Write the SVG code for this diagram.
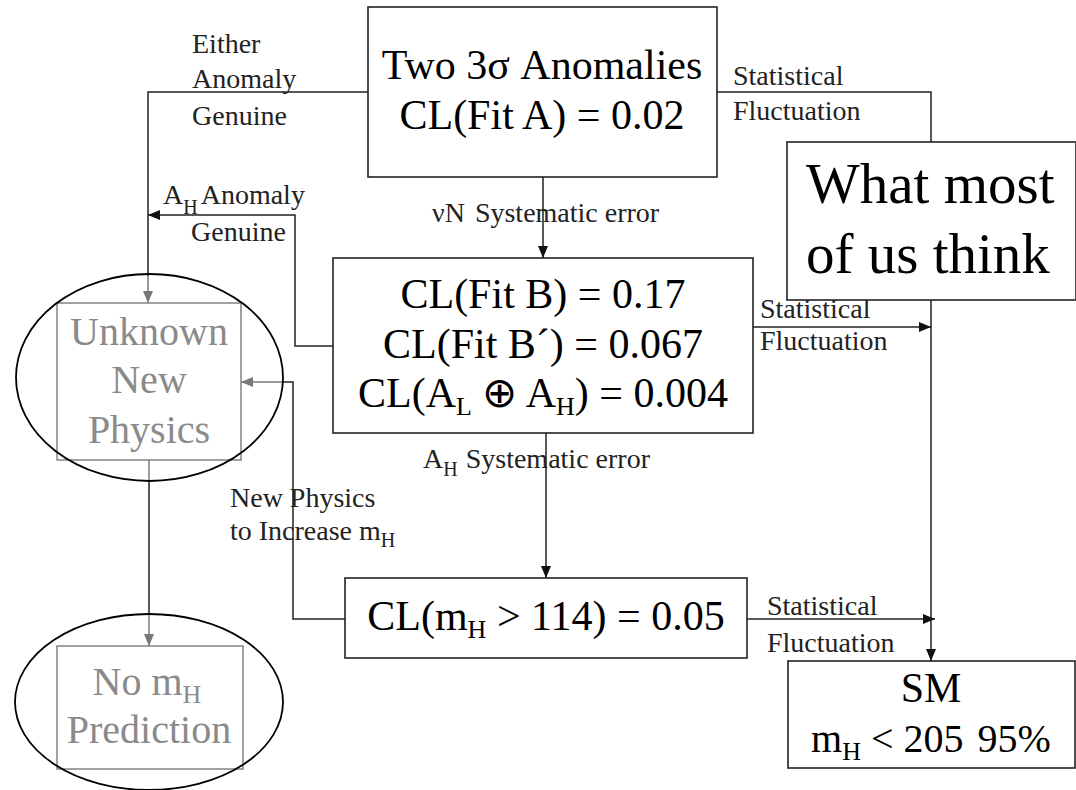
<svg xmlns="http://www.w3.org/2000/svg" width="1076" height="790" viewBox="0 0 1076 790" font-family="Liberation Serif">
<style>
text{font-family:'Liberation Serif','Times New Roman',serif}
.box{fill:#fff;stroke:#222;stroke-width:1.6}
.gbox{fill:none;stroke:#8a8a8a;stroke-width:1.6}
.ell{fill:none;stroke:#000;stroke-width:1.8}
.ln{fill:none;stroke:#222;stroke-width:1.5}
.gln{fill:none;stroke:#7a7a7a;stroke-width:1.5}
.big{font-size:42px;fill:#000;text-anchor:middle}
.gbig{font-size:40px;fill:#8a8a8a;text-anchor:middle}
.lab{font-size:28px;fill:#222}
.huge{font-size:57px;fill:#000}
</style>
<defs>
<marker id="ah" viewBox="0 0 12 10" refX="12" refY="5" markerWidth="12" markerHeight="10" markerUnits="userSpaceOnUse" orient="auto">
<path d="M0,0 L12,5 L0,10 Z" fill="#111"/>
</marker>
<marker id="gah" viewBox="0 0 12 10" refX="12" refY="5" markerWidth="12" markerHeight="10" markerUnits="userSpaceOnUse" orient="auto">
<path d="M0,0 L12,5 L0,10 Z" fill="#777"/>
</marker>
</defs>

<g id="connectors">
<polyline class="ln" points="368,92 148,92 148,276"/>
<line class="gln" x1="148" y1="276" x2="148" y2="303" marker-end="url(#gah)"/>
<polyline class="ln" points="333,346 295,346 295,215 148,215" marker-end="url(#ah)"/>
<line class="ln" x1="543" y1="177" x2="543" y2="258" marker-end="url(#ah)"/>
<line class="ln" x1="546" y1="433" x2="546" y2="578" marker-end="url(#ah)"/>
<polyline class="ln" points="345,619 293,619 293,382 283,382"/>
<line class="gln" x1="283" y1="382" x2="241" y2="382" marker-end="url(#gah)"/>
<line class="gln" x1="149" y1="460" x2="149" y2="481"/>
<line class="ln" x1="149" y1="481" x2="149" y2="614"/>
<line class="gln" x1="149" y1="614" x2="149" y2="646" marker-end="url(#gah)"/>
<polyline class="ln" points="717,92 931,92 931,661" marker-end="url(#ah)"/>
<line class="ln" x1="753" y1="327" x2="931" y2="327" marker-end="url(#ah)"/>
<line class="ln" x1="747" y1="619" x2="935" y2="619" marker-end="url(#ah)"/>
</g>

<g id="labels">
<text class="lab" x="192" y="53">Either</text>
<text class="lab" x="192" y="88">Anomaly</text>
<text class="lab" x="192" y="125">Genuine</text>
<text class="lab" x="163" y="204">A<tspan font-size="20" dy="10">H</tspan><tspan dy="-10" dx="3">Anomaly</tspan></text>
<text class="lab" x="191" y="241">Genuine</text>
<text class="lab" x="733" y="85">Statistical</text>
<text class="lab" x="733" y="120">Fluctuation</text>
<text class="lab" x="432" y="222">νN<tspan dx="10">Systematic error</tspan></text>
<text class="lab" x="760" y="318">Statistical</text>
<text class="lab" x="760" y="350">Fluctuation</text>
<text class="lab" x="423" y="468">A<tspan font-size="20" dy="8">H</tspan><tspan dy="-8" dx="8">Systematic error</tspan></text>
<text class="lab" x="230" y="507">New Physics</text>
<text class="lab" x="230" y="540">to Increase m<tspan font-size="20" dy="7">H</tspan></text>
<text class="lab" x="767" y="615">Statistical</text>
<text class="lab" x="767" y="652">Fluctuation</text>
</g>

<g id="node-top">
<rect class="box" x="368" y="7" width="349" height="170"/>
<text class="big" x="542" y="79">Two 3σ Anomalies</text>
<text class="big" x="542" y="129">CL(Fit A) = 0.02</text>
</g>

<g id="node-fitb">
<rect class="box" x="333" y="258" width="420" height="175"/>
<text class="big" x="543" y="308">CL(Fit B) = 0.17</text>
<text class="big" x="543" y="358">CL(Fit B´) = 0.067</text>
<text class="big" x="543" y="407">CL(A<tspan font-size="26" dy="8">L</tspan><tspan dy="-8"> ⊕ A</tspan><tspan font-size="26" dy="8">H</tspan><tspan dy="-8">) = 0.004</tspan></text>
</g>

<g id="node-mh114">
<rect class="box" x="345" y="578" width="402" height="80"/>
<text class="big" x="546" y="630">CL(m<tspan font-size="26" dy="8">H</tspan><tspan dy="-8"> &gt; 114) = 0.05</tspan></text>
</g>

<g id="node-sm">
<rect class="box" x="788" y="661" width="287" height="107"/>
<text class="big" x="931" y="702">SM</text>
<text class="big" style="font-size:40px" x="931" y="752">m<tspan font-size="26" dy="8">H</tspan><tspan dy="-8"> &lt; 205</tspan><tspan dx="14">95%</tspan></text>
</g>

<g id="node-think">
<rect class="box" x="787" y="142" width="289" height="158"/>
<text class="huge" x="806" y="203">What most</text>
<text class="huge" x="806" y="273">of us think</text>
</g>

<g id="node-unknown">
<rect class="gbox" x="57" y="303" width="184" height="157"/>
<text class="gbig" x="149" y="345">Unknown</text>
<text class="gbig" x="149" y="393">New</text>
<text class="gbig" x="149" y="443">Physics</text>
<ellipse class="ell" cx="149.5" cy="377.5" rx="133.5" ry="103.5"/>
</g>

<g id="node-nomh">
<rect class="gbox" x="57" y="646" width="186" height="123"/>
<text class="gbig" x="147" y="695">No m<tspan font-size="26" dy="8">H</tspan></text>
<text class="gbig" x="149" y="743">Prediction</text>
<ellipse class="ell" cx="149" cy="702" rx="134" ry="88"/>
</g>
</svg>
